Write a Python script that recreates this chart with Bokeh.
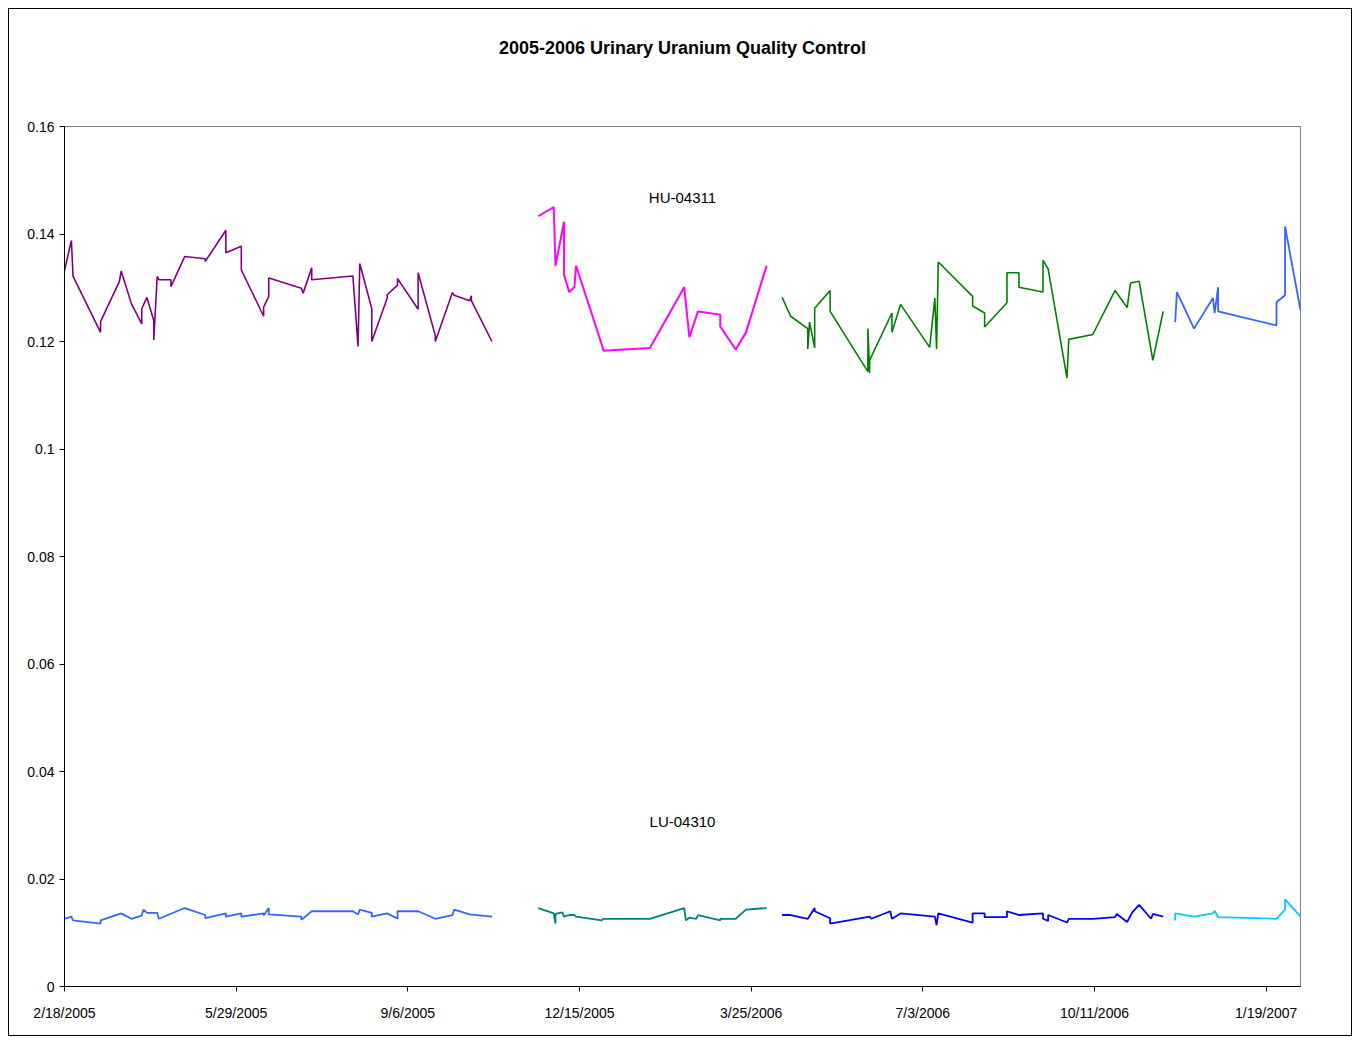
from bokeh.plotting import figure
from bokeh.models import Range1d, FixedTicker, Label, Title
from bokeh.embed import file_html
from bokeh.resources import INLINE

title_text = "2005-2006 Urinary Uranium Quality Control"
hu_label = "HU-04311"
lu_label = "LU-04310"

# x = days since 2/18/2005
x_tick_days = [0, 100, 200, 300, 400, 500, 600, 700]
x_tick_labels = ["2/18/2005", "5/29/2005", "9/6/2005", "12/15/2005",
                 "3/25/2006", "7/3/2006", "10/11/2006", "1/19/2007"]
y_ticks = [0, 0.02, 0.04, 0.06, 0.08, 0.1, 0.12, 0.14, 0.16]
y_tick_labels = ["0", "0.02", "0.04", "0.06", "0.08", "0.1", "0.12", "0.14", "0.16"]

# ---- HU-04311 (high) ----
hu_days_1 = [0, 4, 5, 21, 21, 32, 33, 39, 45, 45, 48, 52, 52, 54, 55, 62, 62, 70, 82, 82,
             94, 94, 103, 103, 116, 116, 119, 119, 138, 139, 144, 144, 168, 171, 172, 179,
             179, 188, 188, 194, 194, 206, 206, 216, 216, 226, 227, 236, 237, 237, 249]
hu_vals_1 = [0.1332, 0.1388, 0.1321, 0.1217, 0.1237, 0.1312, 0.1331, 0.1270, 0.1233, 0.1261,
             0.1282, 0.1239, 0.1203, 0.1321, 0.1315, 0.1315, 0.1302, 0.1358, 0.1354, 0.1349,
             0.1407, 0.1365, 0.1377, 0.1333, 0.1247, 0.1264, 0.1284, 0.1318, 0.1299, 0.1290,
             0.1337, 0.1315, 0.1322, 0.1191, 0.1345, 0.1261, 0.1200, 0.1281, 0.1287, 0.1305,
             0.1317, 0.1260, 0.1328, 0.1211, 0.1200, 0.1291, 0.1286, 0.1276, 0.1285, 0.1276,
             0.1200]

hu_days_2 = [276, 285, 286, 291, 291, 294, 297, 298, 313, 314, 341, 361, 364, 369, 382, 382,
             391, 397, 409]
hu_vals_2 = [0.1433, 0.1450, 0.1341, 0.1423, 0.1324, 0.1292, 0.1301, 0.1341, 0.1194, 0.1183,
             0.1188, 0.1301, 0.1208, 0.1256, 0.1250, 0.1228, 0.1185, 0.1217, 0.1341]

hu_days_3 = [418, 423, 433, 433, 434, 437, 437, 446, 446, 468, 468, 469, 469, 482, 482, 487,
             504, 507, 508, 509, 529, 529, 536, 536, 549, 549, 556, 556, 570, 570, 573, 584,
             585, 599, 612, 619, 621, 626, 634, 640]
hu_vals_3 = [0.1282, 0.1247, 0.1224, 0.1186, 0.1236, 0.1188, 0.1262, 0.1295, 0.1256, 0.1144,
             0.1224, 0.1141, 0.1165, 0.1253, 0.1217, 0.1269, 0.1189, 0.1281, 0.1186, 0.1348,
             0.1284, 0.1266, 0.1253, 0.1227, 0.1272, 0.1328, 0.1328, 0.1301, 0.1292, 0.1351,
             0.1335, 0.1132, 0.1204, 0.1213, 0.1295, 0.1263, 0.1309, 0.1312, 0.1165, 0.1256]

hu_days_4 = [647, 648, 658, 669, 670, 672, 672, 706, 706, 711, 711, 720]
hu_vals_4 = [0.1236, 0.1292, 0.1224, 0.1281, 0.1253, 0.1301, 0.1256, 0.1230, 0.1273, 0.1286,
             0.1414, 0.1258]

# ---- LU-04310 (low) ----
lu_days_1 = [0, 4, 5, 21, 21, 33, 39, 45, 46, 48, 54, 55, 70, 82, 82, 94, 94, 103, 103, 116,
             116, 119, 119, 138, 138, 144, 168, 171, 172, 179, 179, 188, 194, 194, 206, 216,
             226, 227, 236, 249]
lu_vals_1 = [0.0126, 0.0130, 0.0123, 0.0117, 0.0123, 0.0136, 0.0126, 0.0132, 0.0143, 0.0137,
             0.0137, 0.0126, 0.0146, 0.0133, 0.0127, 0.0136, 0.0130, 0.0136, 0.0130, 0.0136,
             0.0132, 0.0146, 0.0134, 0.0130, 0.0124, 0.0140, 0.0140, 0.0134, 0.0143, 0.0137,
             0.0130, 0.0136, 0.0126, 0.0140, 0.0140, 0.0126, 0.0133, 0.0143, 0.0134, 0.0130]

lu_days_2 = [276, 285, 286, 286, 290, 291, 294, 297, 298, 313, 314, 341, 361, 362, 364, 368,
             369, 382, 382, 391, 397, 409]
lu_vals_2 = [0.0146, 0.0136, 0.0117, 0.0135, 0.0138, 0.0130, 0.0133, 0.0133, 0.0130, 0.0123,
             0.0126, 0.0126, 0.0146, 0.0123, 0.0128, 0.0126, 0.0133, 0.0123, 0.0126, 0.0126,
             0.0143, 0.0146]

lu_days_3 = [418, 423, 433, 437, 437, 446, 446, 469, 470, 481, 482, 487, 507, 508, 509, 529,
             529, 536, 536, 549, 549, 556, 570, 570, 573, 573, 584, 585, 599, 612, 613, 619,
             622, 626, 633, 634, 640]
lu_vals_3 = [0.0133, 0.0133, 0.0126, 0.0146, 0.0140, 0.0127, 0.0117, 0.0130, 0.0126, 0.0140,
             0.0126, 0.0136, 0.0130, 0.0114, 0.0136, 0.0119, 0.0136, 0.0136, 0.0129, 0.0129,
             0.0140, 0.0133, 0.0136, 0.0126, 0.0122, 0.0133, 0.0119, 0.0126, 0.0126, 0.0129,
             0.0135, 0.0120, 0.0138, 0.0152, 0.0126, 0.0135, 0.0130]

lu_days_4 = [647, 647, 658, 669, 670, 672, 706, 711, 711, 720]
lu_vals_4 = [0.0123, 0.0136, 0.0130, 0.0136, 0.0141, 0.0129, 0.0126, 0.0143, 0.0162, 0.0130]

FONT = "Liberation Sans"

p = figure(width=1344, height=1028, output_backend="svg", toolbar_location=None,
           x_range=Range1d(0, 720), y_range=Range1d(0, 0.16), title=None,
           min_border_left=55, min_border_right=53, min_border_top=117, min_border_bottom=51)
p.styles = {"border": "1px solid black", "margin": "8px 0 0 8px"}
p.background_fill_color = "white"
p.border_fill_color = "white"
p.outline_line_color = "#808080"
p.outline_line_width = 1
p.xgrid.visible = False
p.ygrid.visible = False

series = [
    (hu_days_1, hu_vals_1, "#800080", 1.6),
    (hu_days_2, hu_vals_2, "#FF00FF", 2.0),
    (hu_days_3, hu_vals_3, "#008000", 1.6),
    (hu_days_4, hu_vals_4, "#3366FF", 1.8),
    (lu_days_1, lu_vals_1, "#3366FF", 1.8),
    (lu_days_2, lu_vals_2, "#008080", 1.8),
    (lu_days_3, lu_vals_3, "#0000FF", 1.8),
    (lu_days_4, lu_vals_4, "#00CCFF", 1.8),
]
for d, v, c, w in series:
    p.line(d, v, line_color=c, line_width=w)

# axes
p.xaxis.ticker = FixedTicker(ticks=x_tick_days)
p.xaxis.major_label_overrides = {t: l for t, l in zip(x_tick_days, x_tick_labels)}
p.yaxis.ticker = FixedTicker(ticks=y_ticks)
p.yaxis.major_label_overrides = {t: l for t, l in zip(y_ticks, y_tick_labels)}
for ax in (p.xaxis, p.yaxis):
    ax.axis_line_color = "black"
    ax.major_tick_line_color = "black"
    ax.major_tick_in = 0
    ax.major_tick_out = 5
    ax.minor_tick_line_color = None
    ax.major_label_text_font = FONT
    ax.major_label_text_font_size = "14px"
    ax.major_label_text_color = "black"
p.xaxis.major_label_standoff = 13
p.yaxis.major_label_standoff = 5

# spacer between frame and title (added first => closest to the frame), then the title
p.add_layout(Title(text=" ", text_font_size="1px", standoff=66), "above")
p.add_layout(Title(text=title_text, align="center", text_font=FONT, text_font_style="bold",
                   text_font_size="18px", text_color="black", standoff=0), "above")

# series labels
p.add_layout(Label(x=360, y=0.1468, text=hu_label, text_align="center", text_baseline="middle",
                   text_font=FONT, text_font_size="15px", text_color="black"))
p.add_layout(Label(x=360, y=0.0307, text=lu_label, text_align="center", text_baseline="middle",
                   text_font=FONT, text_font_size="15px", text_color="black"))

open("out.html", "w").write(file_html(p, INLINE))
